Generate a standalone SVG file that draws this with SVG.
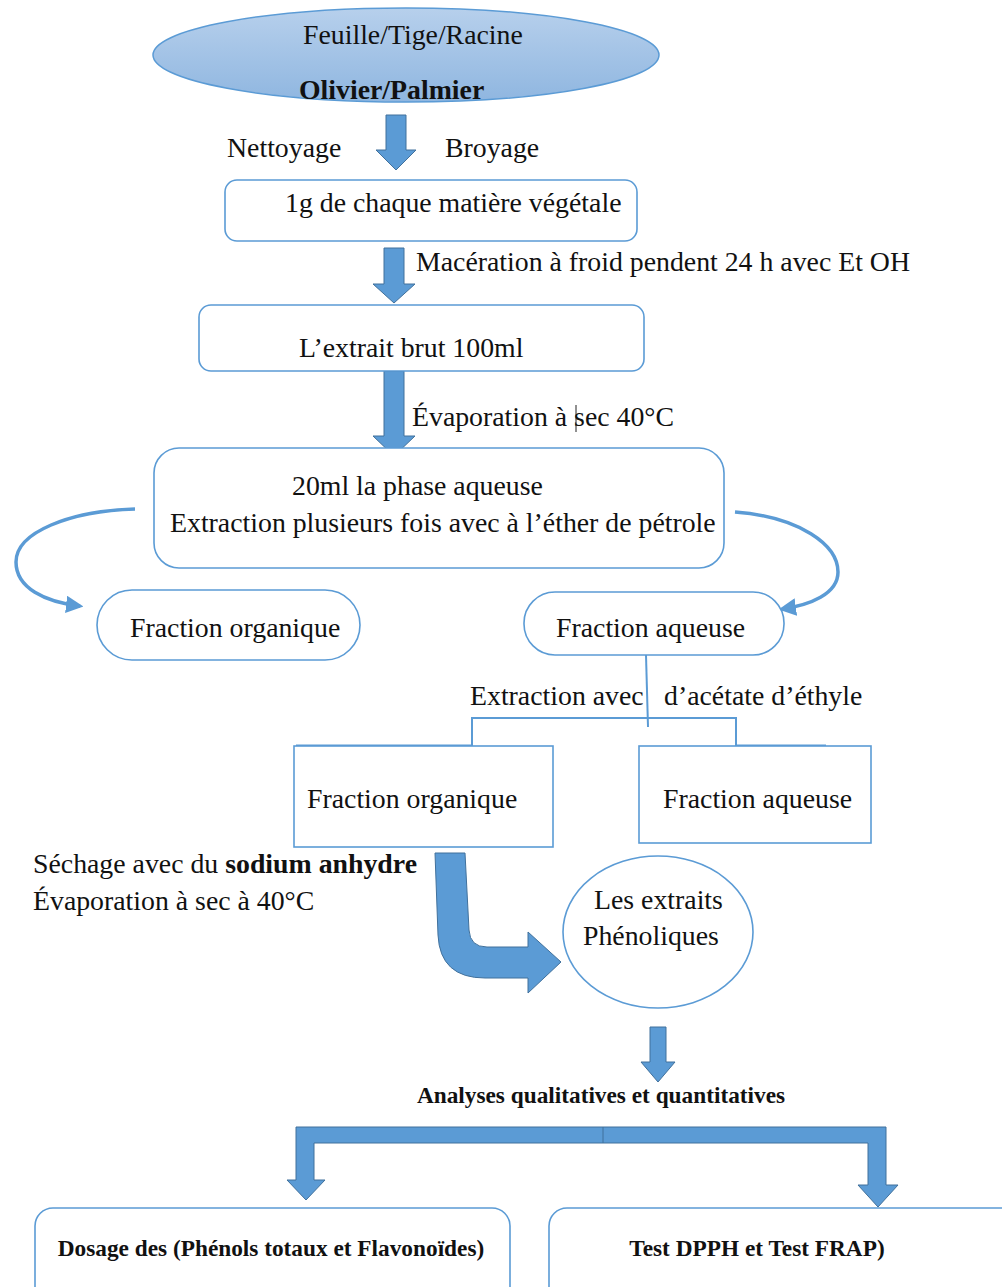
<svg xmlns="http://www.w3.org/2000/svg" width="1002" height="1287" viewBox="0 0 1002 1287">
<defs>
<linearGradient id="eg" x1="0" y1="0" x2="0" y2="1">
<stop offset="0" stop-color="#B7D0EC"/>
<stop offset="1" stop-color="#8FB6E0"/>
</linearGradient>
<marker id="ah" viewBox="0 0 10 10" refX="8" refY="5" markerWidth="5" markerHeight="5" orient="auto">
<path d="M0,0 L10,5 L0,10 Z" fill="#5B9BD5"/>
</marker>
<style>
text{font-family:"Liberation Serif","Times New Roman",serif;fill:#111;}
.t{font-size:27.8px;}
.b{font-size:23.3px;font-weight:bold;}
.box{fill:#fff;stroke:#5B9BD5;stroke-width:1.6;}
.blk{fill:#5B9BD5;stroke:#41719C;stroke-width:1;}
.ln{fill:none;stroke:#5B9BD5;stroke-width:2;}
.cv{fill:none;stroke:#5B9BD5;stroke-width:3.5;}
</style>
</defs>
<rect width="1002" height="1287" fill="#fff"/>

<g id="connectors">
<path class="blk" d="M386,115 H406 V150 H416 L396,170 L376,150 H386 Z"/>
<path class="blk" d="M384,248 H404 V284 H415 L394,303 L373,284 H384 Z"/>
<path class="blk" d="M384,371 H404 V436 H415 L394,456 L373,436 H384 Z"/>
<line x1="576" y1="405" x2="576" y2="432" stroke="#222" stroke-width="1"/>
<path class="cv" d="M135,509 C70,511 16,532 16,562 C16,588 45,602 80,606" marker-end="url(#ah)"/>
<path class="cv" d="M735,512 C800,517 838,545 838,572 C838,594 810,605 782,609" marker-end="url(#ah)"/>
<path class="ln" d="M646,655 L648,727"/>
<path class="ln" d="M472,746 V718 H736 V746"/>
<line x1="296" y1="746" x2="472" y2="746" stroke="#5B9BD5" stroke-width="3"/>
<line x1="736" y1="746" x2="826" y2="746" stroke="#5B9BD5" stroke-width="3"/>
<path class="blk" d="M435,853 L465,853 L469,930 Q470,947 487,947 L528,947 L528,932 L561,962 L528,993 L528,978 L485,978 Q440,978 438,935 Z"/>
<path class="blk" d="M650,1027 H666 V1062 H675 L658,1082 L641,1062 H650 Z"/>
<path class="blk" d="M296,1127 H886 V1185 H898 L878,1207 L858,1185 H868 V1143 H314 V1180 H325 L306,1200 L287,1180 H296 Z"/>
<line x1="603" y1="1127" x2="603" y2="1143" stroke="#41719C" stroke-width="1"/>
</g>

<g id="n-source">
<ellipse cx="406" cy="55" rx="253" ry="47" fill="url(#eg)" stroke="#5B9BD5" stroke-width="1.5"/>
<text class="t" x="303" y="44">Feuille/Tige/Racine</text>
<text class="t" x="299" y="99" font-weight="bold" font-size="26.6">Olivier/Palmier</text>
</g>

<g id="labels-1">
<text class="t" x="227" y="157">Nettoyage</text>
<text class="t" x="445" y="157">Broyage</text>
</g>

<g id="n-matiere">
<rect class="box" x="225" y="180" width="412" height="61" rx="12"/>
<text class="t" x="285" y="212">1g de chaque matière végétale</text>
</g>

<g id="label-maceration">
<text class="t" x="416" y="271">Macération à froid pendent 24 h avec Et OH</text>
</g>

<g id="n-extrait">
<rect class="box" x="199" y="305" width="445" height="66" rx="12"/>
<text class="t" x="299" y="357">L’extrait brut 100ml</text>
</g>

<g id="label-evap">
<text class="t" x="412" y="426">Évaporation à sec 40°C</text>
</g>

<g id="n-phase">
<rect class="box" x="154" y="448" width="570" height="120" rx="25"/>
<text class="t" x="292" y="495">20ml la phase aqueuse</text>
<text class="t" x="170" y="532">Extraction plusieurs fois avec à l’éther de pétrole</text>
</g>

<g id="n-frac-org-1">
<rect class="box" x="97" y="590" width="263" height="70" rx="35"/>
<text class="t" x="130" y="637">Fraction organique</text>
</g>

<g id="n-frac-aq-1">
<rect class="box" x="524" y="592" width="260" height="63" rx="31"/>
<text class="t" x="556" y="637">Fraction aqueuse</text>
</g>

<g id="labels-extraction">
<text class="t" x="470" y="705">Extraction avec</text>
<text class="t" x="664" y="705">d’acétate d’éthyle</text>
</g>

<g id="n-frac-org-2">
<rect class="box" x="294" y="746" width="259" height="101"/>
<text class="t" x="307" y="808">Fraction organique</text>
</g>

<g id="n-frac-aq-2">
<rect class="box" x="639" y="746" width="232" height="97"/>
<text class="t" x="663" y="808">Fraction aqueuse</text>
</g>

<g id="labels-sechage">
<text class="t" x="33" y="873">Séchage avec du <tspan font-weight="bold">sodium anhydre</tspan></text>
<text class="t" x="33" y="910">Évaporation à sec à 40°C</text>
</g>

<g id="n-extraits">
<ellipse class="box" cx="658" cy="932" rx="95" ry="76"/>
<text class="t" x="594" y="909">Les extraits</text>
<text class="t" x="583" y="945">Phénoliques</text>
</g>

<g id="label-analyses">
<text class="b" x="601" y="1103" text-anchor="middle">Analyses qualitatives et quantitatives</text>
</g>

<g id="n-dosage">
<rect class="box" x="35" y="1208" width="475" height="120" rx="18"/>
<text class="b" x="271" y="1256" text-anchor="middle">Dosage des (Phénols totaux et Flavonoïdes)</text>
</g>

<g id="n-test">
<rect class="box" x="549" y="1208" width="480" height="120" rx="18"/>
<text class="b" x="757" y="1256" text-anchor="middle">Test DPPH et Test FRAP)</text>
</g>
</svg>
